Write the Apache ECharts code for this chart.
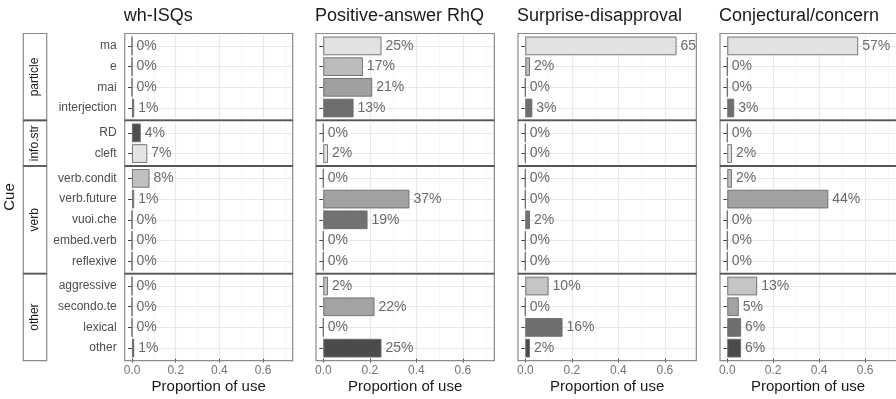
<!DOCTYPE html>
<html>
<head>
<meta charset="utf-8">
<script src="https://cdn.jsdelivr.net/npm/echarts@6/dist/echarts.min.js"></script>
<style>
  html, body { margin: 0; padding: 0; background: #ffffff; }
  #chart { width: 896px; height: 399px; }
</style>
</head>
<body>
<div id="chart"></div>
<script>
// ---- data ---------------------------------------------------------------
const questionTypes = ['wh-ISQs', 'Positive-answer RhQ', 'Surprise-disapproval', 'Conjectural/concern'];
const cueGroups = ['particle', 'info.str', 'verb', 'other'];

const particleCues = ['ma', 'e', 'mai', 'interjection'];
const infoStrCues = ['RD', 'cleft'];
const verbCues = ['verb.condit', 'verb.future', 'vuoi.che', 'embed.verb', 'reflexive'];
const otherCues = ['aggressive', 'secondo.te', 'lexical', 'other'];

// proportion of use, in cue order: particle | info.str | verb | other
const whISQs              = [0.00, 0.00, 0.00, 0.01,  0.04, 0.07,  0.08, 0.01, 0.00, 0.00, 0.00,  0.00, 0.00, 0.00, 0.01];
const positiveAnswerRhQ   = [0.25, 0.17, 0.21, 0.13,  0.00, 0.02,  0.00, 0.37, 0.19, 0.00, 0.00,  0.02, 0.22, 0.00, 0.25];
const surpriseDisapproval = [0.65, 0.02, 0.00, 0.03,  0.00, 0.00,  0.00, 0.00, 0.02, 0.00, 0.00,  0.10, 0.00, 0.16, 0.02];
const conjecturalConcern  = [0.57, 0.00, 0.00, 0.03,  0.00, 0.02,  0.02, 0.44, 0.00, 0.00, 0.00,  0.13, 0.05, 0.06, 0.06];

const majorBreaks = [0, 0.2, 0.4, 0.6];
const minorBreaks = [0.1, 0.3, 0.5, 0.7];

// ---- styling ------------------------------------------------------------
const cueFill = {
  'ma': '#e2e2e2', 'e': '#bcbcbc', 'mai': '#a0a0a0', 'interjection': '#6e6e6e',
  'RD': '#4e4e4e', 'cleft': '#e4e4e4',
  'verb.condit': '#c0c0c0', 'verb.future': '#a2a2a2', 'vuoi.che': '#727272', 'embed.verb': '#5a5a5a', 'reflexive': '#464646',
  'aggressive': '#c5c5c5', 'secondo.te': '#a3a3a3', 'lexical': '#6f6f6f', 'other': '#4b4b4b'
};
const FONT = "'Liberation Sans', Arial, Helvetica, sans-serif";
const BORDER = '#8a8a8a';
const SEPARATOR = '#555555';

// ---- layout -------------------------------------------------------------
const columns = [
  { x0: 132.0, ppu: 218.6 },
  { x0: 323.3, ppu: 232.7 },
  { x0: 525.3, ppu: 232.7 },
  { x0: 727.3, ppu: 232.7 }
];
const X_MAX = 0.735;     // right end of the value scale
const PAD_X = 7.3;       // px of expansion left of zero
const PANEL_TOP = 33.5;
const UNIT = 20.7;       // px per cue row
const PAD_Y = 0.6;       // discrete expansion, in rows
const STRIP_X = 23.3, STRIP_W = 23.4;
const LABEL_GAP = 4;

const cuesByGroup = [particleCues, infoStrCues, verbCues, otherCues];
const proportions = [whISQs, positiveAnswerRhQ, surpriseDisapproval, conjecturalConcern];

const rows = [];
(function () {
  let y = PANEL_TOP, start = 0;
  cuesByGroup.forEach(function (cues) {
    const h = (cues.length - 1 + 2 * PAD_Y) * UNIT;
    rows.push({ top: y, height: h, cues: cues, start: start });
    y += h; start += cues.length;
  });
})();
const PANEL_BOTTOM = rows[rows.length - 1].top + rows[rows.length - 1].height;

const grid = [], xAxis = [], yAxis = [], series = [], title = [], graphic = [];

columns.forEach(function (col, c) {
  const gridW = X_MAX * col.ppu;
  const panelLeft = col.x0 - PAD_X;
  const panelW = gridW + PAD_X;

  title.push({
    text: questionTypes[c], left: panelLeft - 1, top: 7, padding: 0,
    textStyle: { fontFamily: FONT, fontSize: 18, fontWeight: 'normal', color: '#1a1a1a' }
  });

  rows.forEach(function (row, r) {
    const gi = grid.length;
    const isBottom = r === rows.length - 1;
    grid.push({
      left: col.x0, width: gridW,
      top: row.top + (PAD_Y - 0.5) * UNIT, height: row.cues.length * UNIT,
      containLabel: false
    });
    xAxis.push({
      gridIndex: gi, type: 'value', min: 0, max: X_MAX,
      axisLine: { show: false },
      splitLine: { show: false },
      axisTick: isBottom ? { show: true, customValues: majorBreaks, length: 4, lineStyle: { color: '#444', width: 1 } } : { show: false },
      axisLabel: isBottom ? {
        show: true, customValues: majorBreaks, margin: 6,
        fontFamily: FONT, fontSize: 12, color: '#747474',
        formatter: function (v) { return Number(v).toFixed(1); }
      } : { show: false },
      name: isBottom ? 'Proportion of use' : '',
      nameLocation: 'middle', nameGap: 21,
      nameTextStyle: { fontFamily: FONT, fontSize: 15, color: '#1a1a1a', padding: [0, PAD_X, 0, 0] }
    });
    yAxis.push({
      gridIndex: gi, type: 'category', data: row.cues, inverse: true,
      offset: PAD_X,
      axisLine: { show: false },
      splitLine: { show: false },
      axisTick: { show: true, alignWithLabel: true, length: 4, lineStyle: { color: '#444', width: 1 } },
      axisLabel: { show: c === 0, margin: 8, fontFamily: FONT, fontSize: 12, color: '#4d4d4d' }
    });

    const values = proportions[c].slice(row.start, row.start + row.cues.length);
    const major = { type: 'solid', color: '#e8e8e8', width: 1.1 };
    const minor = { type: 'solid', color: '#f4f4f4', width: 0.8 };
    const gridLines = []
      .concat(majorBreaks.map(function (v) { return { xAxis: v, lineStyle: major }; }))
      .concat(minorBreaks.map(function (v) { return { xAxis: v, lineStyle: minor }; }))
      .concat(row.cues.map(function (cue) { return { yAxis: cue, lineStyle: major }; }));

    series.push({
      type: 'bar', xAxisIndex: gi, yAxisIndex: gi, z: 2,
      barCategoryGap: '10%',
      animation: false,
      silent: true,
      data: values.map(function (v, i) {
        return {
          value: v,
          itemStyle: { color: cueFill[row.cues[i]] },
          // labels are cut off at the panel's right edge
          label: { width: (X_MAX - v) * col.ppu - LABEL_GAP + 7, overflow: 'truncate', ellipsis: '' }
        };
      }),
      itemStyle: { borderColor: '#6a6a6a', borderWidth: 0.9 },
      label: {
        show: true, position: 'right', distance: LABEL_GAP,
        fontFamily: FONT, fontSize: 14, color: '#6a6a6a',
        formatter: function (p) { return Math.round(p.value * 100) + '%'; }
      },
      markLine: {
        silent: true, z: 1, symbol: 'none', animation: false,
        label: { show: false }, emphasis: { disabled: true },
        lineStyle: { type: 'solid' },
        data: gridLines
      }
    });

    // panel frame
    graphic.push({
      type: 'rect', z: 100, silent: true,
      shape: { x: panelLeft, y: row.top, width: panelW, height: row.height },
      style: { fill: 'none', stroke: BORDER, lineWidth: 1.2 }
    });
    if (r > 0) {
      graphic.push({
        type: 'line', z: 101, silent: true,
        shape: { x1: panelLeft, y1: row.top, x2: panelLeft + panelW, y2: row.top },
        style: { stroke: SEPARATOR, lineWidth: 1.8 }
      });
    }

    // facet strips on the far left
    if (c === 0) {
      graphic.push({
        type: 'rect', z: 100, silent: true,
        shape: { x: STRIP_X, y: row.top, width: STRIP_W, height: row.height },
        style: { fill: '#ffffff', stroke: BORDER, lineWidth: 1.2 }
      });
      if (r > 0) {
        graphic.push({
          type: 'line', z: 101, silent: true,
          shape: { x1: STRIP_X, y1: row.top, x2: STRIP_X + STRIP_W, y2: row.top },
          style: { stroke: SEPARATOR, lineWidth: 1.8 }
        });
      }
      graphic.push({
        type: 'text', z: 102, silent: true,
        x: STRIP_X + STRIP_W / 2, y: row.top + row.height / 2, rotation: Math.PI / 2,
        style: { text: cueGroups[r], fontFamily: FONT, fontSize: 12, fill: '#1a1a1a', textAlign: 'center', textVerticalAlign: 'middle' }
      });
    }
  });
});

graphic.push({
  type: 'text', z: 102, silent: true,
  x: 10, y: (PANEL_TOP + PANEL_BOTTOM) / 2, rotation: Math.PI / 2,
  style: { text: 'Cue', fontFamily: FONT, fontSize: 15, fill: '#1a1a1a', textAlign: 'center', textVerticalAlign: 'middle' }
});

const chart = echarts.init(document.getElementById('chart'), null, { renderer: 'canvas' });
chart.setOption({
  backgroundColor: '#ffffff',
  animation: false,
  textStyle: { fontFamily: FONT },
  title: title,
  grid: grid,
  xAxis: xAxis,
  yAxis: yAxis,
  series: series,
  graphic: graphic
});
</script>
</body>
</html>
